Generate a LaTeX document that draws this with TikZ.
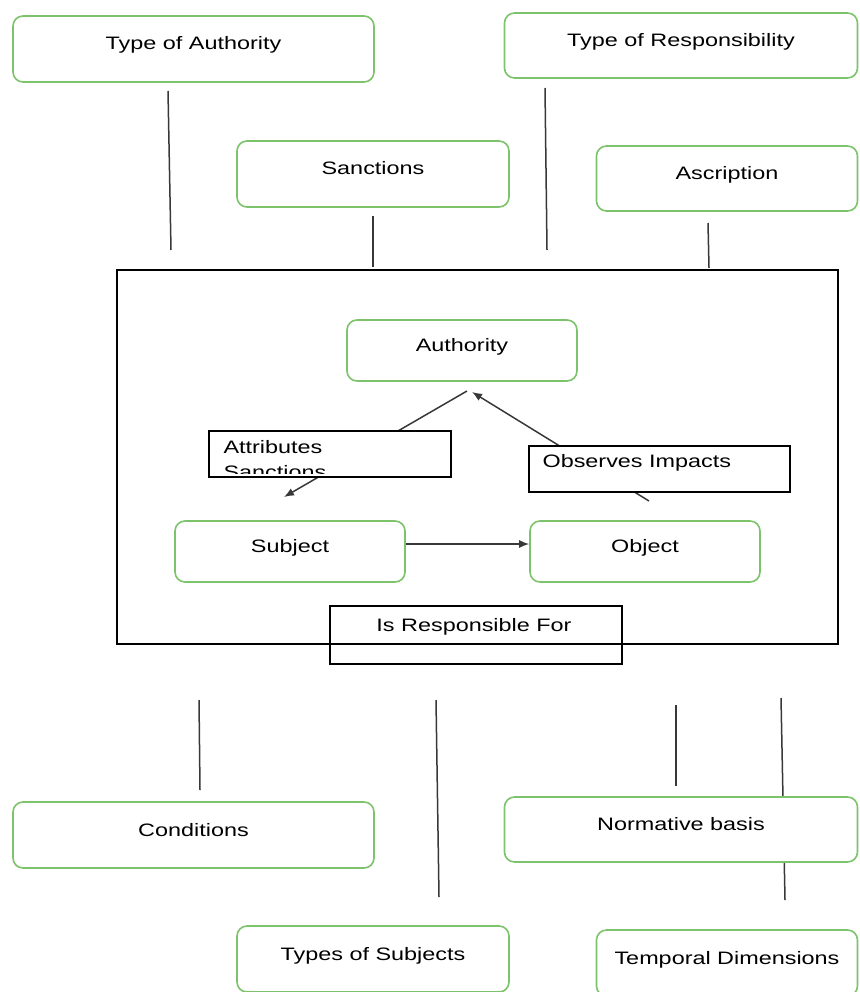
\documentclass[tikz,border=0pt]{standalone}
\usepackage{fontspec}
\setmainfont{Liberation Sans}[FakeStretch=1.3]
\usepackage{tikz}
\usetikzlibrary{arrows.meta,positioning,backgrounds}
\definecolor{boxgreen}{HTML}{7DC36B}
\definecolor{linegray}{HTML}{383838}

\begin{document}
\begin{tikzpicture}[x=1pt,y=-1pt,font=\fontsize{18}{22}\selectfont,>={Latex[length=10pt,width=8pt]},
  gbox/.style={draw=boxgreen,line width=1.6pt,rounded corners=10pt,fill=white,inner sep=0pt,
               text height=13pt,text depth=11pt},
  lbox/.style={draw=black,line width=1.3pt,inner sep=0pt},
  conn/.style={draw=linegray,line width=1.5pt}]
  \useasboundingbox (0,0) rectangle (859,992);
  % top row
  \node[gbox,minimum width=361pt,minimum height=66pt] (toa) at (193.5,49) {Type of Authority};
  \node[gbox,minimum width=353pt,minimum height=65pt] (tor) at (681,45.5) {Type of Responsibility};
  \node[gbox,minimum width=272pt,minimum height=66pt] (sanc) at (373,174) {Sanctions};
  \node[gbox,minimum width=261pt,minimum height=65pt] (ascr) at (727,178.5) {Ascription};
  % frame with the core relation
  \node[lbox,minimum width=721pt,minimum height=374pt] (frame) at (477.5,457) {};
  \node[gbox,minimum width=230pt,minimum height=61pt] (auth) at (462,350.5) {Authority};
  \node[gbox,minimum width=230pt,minimum height=61pt] (subj) at (290,551.5) {Subject};
  \node[gbox,minimum width=230pt,minimum height=61pt] (obj) at (645,551.5) {Object};
  \draw[conn,->] ([yshift=7.5pt]subj.east) -- ([yshift=7.5pt]obj.west);
  % edge labels
  \node[lbox,fill=white,minimum width=242pt,minimum height=46pt] (attr) at (330,454) {};
  \begin{scope}
    \clip ([yshift=4pt]attr.south west) rectangle (attr.north east);
    \node[anchor=base west,inner sep=0pt] (attrtxt) at ([xshift=15pt,yshift=-23.5pt]attr.north west) {Attributes};
    \node[anchor=base west,inner sep=0pt] (attrtxtb) at ([xshift=15pt,yshift=-48pt]attr.north west) {Sanctions};
  \end{scope}
  \node[lbox,fill=white,minimum width=261pt,minimum height=46pt] (obs) at (659.5,469) {};
  \node[anchor=base west,inner sep=0pt] (obstxt) at ([xshift=14pt,yshift=-22.5pt]obs.north west) {Observes Impacts};
  \node[lbox,minimum width=292pt,minimum height=58pt] (isr) at (476,635) {};
  \node[anchor=base,inner sep=0pt] (isrtxt) at ([xshift=-2pt,yshift=-26pt]isr.north) {Is Responsible For};
  % bottom row
  \node[gbox,minimum width=361pt,minimum height=66pt] (cond) at (193.5,835) {Conditions};
  \node[gbox,minimum width=353pt,minimum height=65pt] (norm) at (681,829.5) {Normative basis};
  \node[gbox,minimum width=272pt,minimum height=66pt] (tos) at (373,959) {Types of Subjects};
  \node[gbox,minimum width=261pt,minimum height=66pt] (temp) at (727,963) {Temporal Dimensions};
  % loose connectors, behind the boxes
  \coordinate (toaa) at (168,91);  \coordinate (toab) at (171,250);
  \coordinate (sanca) at (373,216); \coordinate (sancb) at (373,267);
  \coordinate (tora) at (545,88);  \coordinate (torb) at (547,250);
  \coordinate (ascra) at (708,223); \coordinate (ascrb) at (709,268);
  \coordinate (conda) at (199,700); \coordinate (condb) at (200,790);
  \coordinate (tosa) at (436,700);  \coordinate (tosb) at (439,897);
  \coordinate (norma) at (676,705); \coordinate (normb) at (676,786);
  \coordinate (tempa) at (781,698); \coordinate (tempb) at (785,900);
  \coordinate (attrtop) at (467,391); \coordinate (attrtip) at (284,497);
  \coordinate (obsfoot) at (649,501); \coordinate (authtip) at (472,392);
  \begin{scope}[on background layer]
    \foreach \a/\b in {toaa/toab,sanca/sancb,tora/torb,ascra/ascrb,conda/condb,tosa/tosb,norma/normb,tempa/tempb}
      \draw[conn] (\a) -- (\b);
    \draw[conn,->] (attrtop) -- (attrtip);
    \draw[conn,->] (obsfoot) -- (authtip);
  \end{scope}
\end{tikzpicture}
\end{document}
